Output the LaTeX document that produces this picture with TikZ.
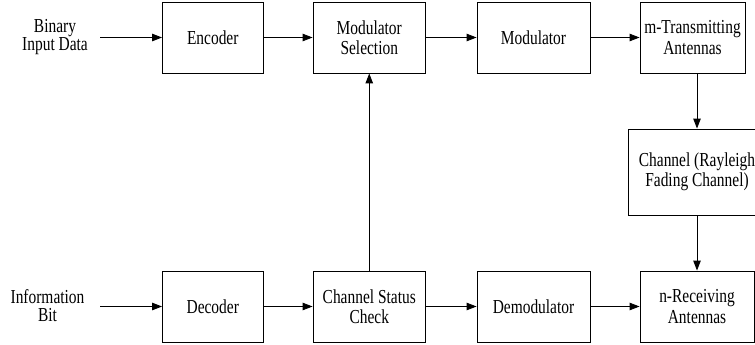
\documentclass[tikz,border=0pt]{standalone}
\usepackage{fontspec}
\setmainfont[FakeStretch=0.78]{Liberation Serif}
\usetikzlibrary{arrows.meta}
\tikzset{
  blk/.style={draw, line width=0.9pt, minimum height=71pt, inner sep=0pt, align=center,
              font=\fontsize{19.8}{20.5}\selectfont},
  lbl/.style={align=center, inner sep=0pt, font=\fontsize{19.8}{18}\selectfont},
  arr/.style={line width=0.9pt, -{Triangle[length=10pt,width=7.5pt]}},
}
\begin{document}
\begin{tikzpicture}[x=1pt, y=-1pt]
\useasboundingbox (0,0) rectangle (755,345);
\clip (0,0) rectangle (755,345);
% transmitter chain
\node[blk, minimum width=100.5pt] (enc) at (212.75,37.5) {Encoder};
\node[blk, minimum width=112.5pt] (msel) at (369.25,37.5) {Modulator\\Selection};
\node[blk, minimum width=113pt] (mod) at (533.5,37.5) {Modulator};
\node[blk, minimum width=105pt] (tx) at (692.5,37.5) {m-Transmitting\\Antennas};
% channel
\node[blk, minimum width=138pt, minimum height=86pt] (ch) at (697,172) {Channel (Rayleigh\\Fading Channel)};
% receiver chain
\node[blk, minimum width=100.5pt] (dec) at (212.75,306.5) {Decoder};
\node[blk, minimum width=112.5pt] (csc) at (369.25,306.5) {Channel Status\\Check};
\node[blk, minimum width=113pt] (dem) at (533.5,306.5) {Demodulator};
\node[blk, minimum width=114pt] (rx) at (697,306.5) {n-Receiving\\Antennas};
% input labels
\node[lbl] (bin) at (55,37) {Binary\\Input Data};
\node[lbl] (info) at (47.5,306) {Information\\Bit};
\coordinate (binout) at (100,37.5);
\coordinate (infoout) at (100,306.5);
% connectors
\draw[arr] (binout) -- (enc);
\draw[arr] (enc) -- (msel);
\draw[arr] (msel) -- (mod);
\draw[arr] (mod) -- (tx);
\draw[arr] (tx.south -| ch) -- (ch.north);
\draw[arr] (ch.south) -- (rx.north);
\draw[arr] (infoout) -- (dec);
\draw[arr] (dec) -- (csc);
\draw[arr] (csc) -- (dem);
\draw[arr] (dem) -- (rx);
\draw[arr] (csc.north) -- (msel.south);
\end{tikzpicture}
\end{document}
